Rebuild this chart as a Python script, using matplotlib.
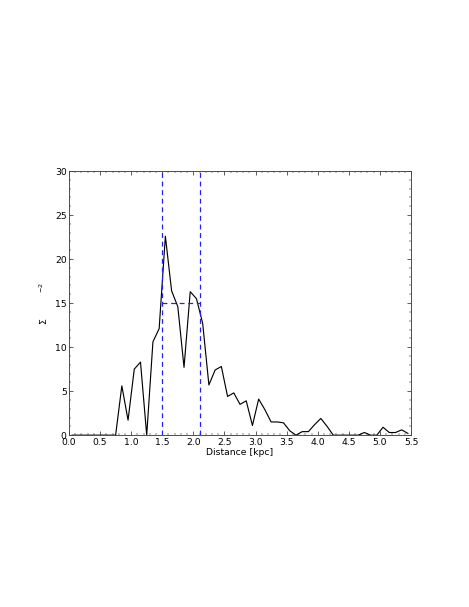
import numpy as np
import matplotlib
matplotlib.use("Agg")
import matplotlib.pyplot as plt
from matplotlib.ticker import MultipleLocator

# surface density profile, bins of 0.1 kpc
distance = [0.05, 0.15, 0.25, 0.35, 0.45, 0.55, 0.65, 0.75, 0.85, 0.95,
            1.05, 1.15, 1.25, 1.35, 1.45, 1.55, 1.65, 1.75, 1.85, 1.95,
            2.05, 2.15, 2.25, 2.35, 2.45, 2.55, 2.65, 2.75, 2.85, 2.95,
            3.05, 3.15, 3.25, 3.35, 3.45, 3.55, 3.65, 3.75, 3.85, 3.95,
            4.05, 4.15, 4.25, 4.35, 4.45, 4.55, 4.65, 4.75, 4.85, 4.95,
            5.05, 5.15, 5.25, 5.35, 5.45]
sigma = [0, 0, 0, 0, 0, 0, 0, 0, 5.6, 1.7,
         7.5, 8.3, 0, 10.6, 12.1, 22.6, 16.4, 14.6, 7.7, 16.3,
         15.5, 12.7, 5.7, 7.4, 7.8, 4.4, 4.8, 3.5, 3.9, 1.1,
         4.1, 2.9, 1.5, 1.5, 1.4, 0.5, 0, 0.4, 0.4, 1.2,
         1.9, 1.0, 0, 0, 0, 0, 0, 0.3, 0, 0,
         0.9, 0.3, 0.3, 0.6, 0.2]

r_lo = 1.5
r_hi = 2.1
sigma_level = 15

fig = plt.figure(figsize=(8.5, 11), dpi=55.2)
ax = fig.add_axes([0.147, 0.283, 0.729, 0.435])

ax.plot(distance, sigma, color='k', lw=1.5)
dash = dict(color='#2020ff', ls=(0, (4, 3)), lw=1.6)
ax.axvline(r_lo, **dash)
ax.axvline(r_hi, **dash)
ax.plot([r_lo, r_hi], [sigma_level, sigma_level], **dash)

ax.set_xlim(0, 5.5)
ax.set_ylim(0, 30)
ax.xaxis.set_major_locator(MultipleLocator(0.5))
ax.xaxis.set_minor_locator(MultipleLocator(0.1))
ax.yaxis.set_major_locator(MultipleLocator(5))
ax.yaxis.set_minor_locator(MultipleLocator(1))
ax.tick_params(which='both', direction='in', top=True, right=True, labelsize=12)
ax.tick_params(which='major', length=5, pad=3)
ax.tick_params(which='minor', length=2.5)
for s in ax.spines.values():
    s.set_color('#444444')
    s.set_linewidth(1.2)

ax.set_xlabel('Distance [kpc]', fontsize=12, labelpad=2)
ax.text(-0.075, 0.43, r'$\Sigma$', transform=ax.transAxes, rotation=90,
        fontsize=12, ha='center', va='center')
ax.text(-0.075, 0.56, r'$^{-2}$', transform=ax.transAxes, rotation=90,
        fontsize=12, ha='center', va='center')

fig.savefig('out.png', dpi=55.2)
